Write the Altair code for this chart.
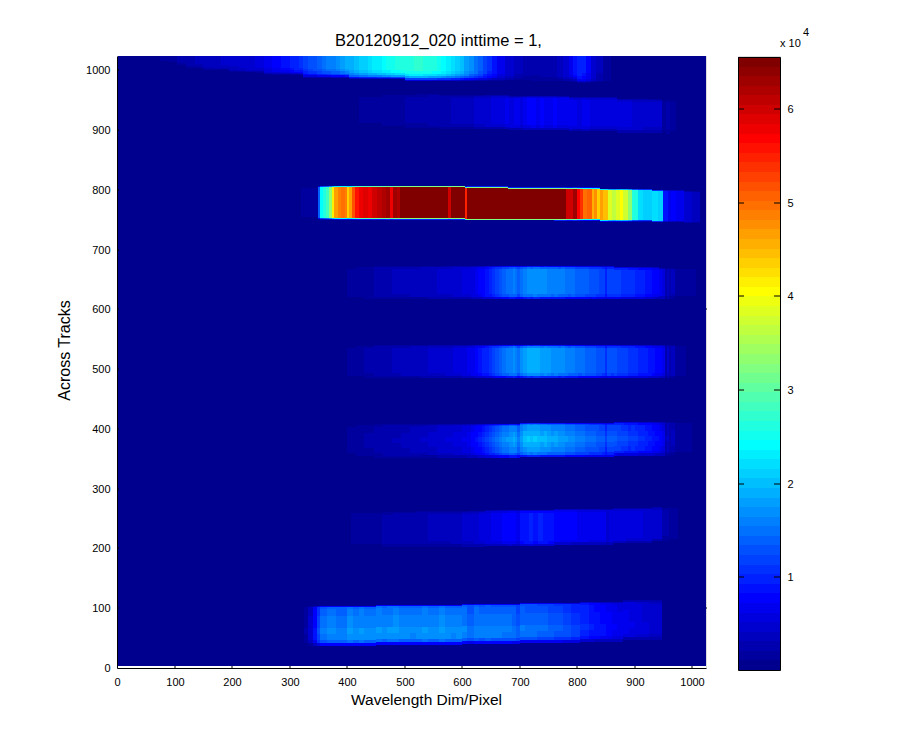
import altair as alt
import pandas as pd

alt.data_transformers.disable_max_rows()

TITLE = "B20120912_020 inttime = 1,"
X_TICKS = [0, 100, 200, 300, 400, 500, 600, 700, 800, 900, 1000]
Y_TICKS = [0, 100, 200, 300, 400, 500, 600, 700, 800, 900, 1000]
CBAR_TICKS = [10000, 20000, 30000, 40000, 50000, 60000]
V_MIN, V_MAX = 90, 65535

# ---- band A (top, y ~ 1000) ----
A_X = [57,75,90,105,120,135,150,165,180,195,210,225,240,255,270,285,300,308,316,324,332,340,348,356,364,372,380,388,396,404,412,420,428,436,444,452,460,468,476,484,492,500,508,516,524,532,540,548,556,564,572,580,588,596,604,612,620,628,636,644,652,660,675,690,705,720,735,750,765,775,785,792,800,808,816,824,832,845,858]
A_V = [700,1300,1800,2300,2900,3300,3700,3900,4200,4400,4700,5000,5600,6400,7400,8400,9300,10100,10800,11600,12400,13100,13900,14700,15500,16200,16900,17700,18500,19300,20000,20800,21500,22200,22900,23500,24100,24700,25200,25700,26100,26400,26600,26800,26700,26500,26200,25700,25100,24300,23400,22300,21000,19600,18200,16800,15300,13700,12100,10500,9000,7200,5000,3600,2800,2500,2600,3000,3800,5000,7000,8800,9800,9500,7500,5000,3200,1800,900]
A_END = 875
A_OX = [57,75,95,120,150,190,250,320,400,500,640,720,800,860]
A_LO = [1018,1012,1007,1003,999,996,992,988,985,983,983,981,978,980]
A_HI = [1024]*14

# ---- band B (y ~ 930) ----
B_X = [420,440,460,480,500,520,540,560,580,600,610,620,630,640,650,660,668,675,682,690,700,706,712,720,728,735,742,750,758,765,775,785,792,800,808,815,822,830,840,850,862,870,880,888,895,905,915,925,935,948,955,962]
B_V = [1200,1300,1500,2000,2300,2500,2900,3100,3200,3700,3300,4500,4300,5000,5400,6000,5700,6500,6200,6300,5500,7000,7300,7400,7100,7500,7200,7200,7400,7000,6900,6800,6300,6200,6600,6500,6100,6000,5800,5500,5800,5400,5300,5500,5000,5100,4800,4700,4500,1800,2500,1500]
B_END = 972
B_OX = [420,560,680,780,870,940]
B_LO = [903,902,900,898,896,894]
B_HI = [960,959,957.5,955,952,950]

# ---- band C (bright, y ~ 780) ----
C_X = [150,175,200,225,280,300,320,340,349,353,358,363,368,373,378,384,390,396,400,404,409,414,420,428,436,444,452,460,468,474,480,486,492,530,560,575,581,605,609,640,680,720,760,781,793,799,805,811,817,825,830,835,840,845,853,860,868,875,880,888,895,905,915,930,940,950,958,964,972,985,1000]
C_V = [900,1100,800,400,900,1100,1300,1600,14000,24000,26000,28000,33000,41000,47000,49000,50000,49000,44000,47000,52000,56000,58000,59000,57500,59500,60500,61500,62500,58000,63000,62000,65535,65535,65535,60000,65535,55000,65535,65535,65535,65535,65535,60000,63000,57000,54000,50000,51000,46000,48000,44000,47000,45000,38000,36000,38000,40000,37000,33000,26000,22000,21000,22000,21000,9000,7000,8000,7000,5000,4000]
C_END = 1013
C_OX = [150,349,600,680,760,840,920,980]
C_LO = [752,750,749,749,748,747,745.5,744]
C_HI = [806,807,806,805,804,802,800.5,798.5]

# ---- bands D, E, F share their column starts ----
MID_X = [383,400,416,430,447,462,478,494,510,526,540,556,570,585,600,608,616,622,628,634,640,646,652,658,664,670,676,682,688,692,696,700,706,712,718,724,730,736,742,748,754,760,766,772,778,784,790,796,802,808,814,820,826,832,838,844,848,852,858,864,870,876,882,888,894,900,906,912,918,924,930,936,942,948,952,956,960,964,970]
D_V = [900,1300,1800,2100,2600,2900,3200,3300,3600,3800,4000,4200,4600,5000,5300,5700,6200,6800,7400,8200,9200,10200,11200,12200,13000,13800,14500,15200,15800,15000,13500,15000,16300,17000,16600,17300,17000,16500,16800,16200,15800,16200,15500,15800,15000,14600,15000,14200,13800,14200,13400,13000,13200,12500,12200,11800,10200,12000,11800,12000,11500,11200,11000,10500,10700,10000,9500,9700,9000,8800,8000,7600,7000,6000,2500,4000,2800,3500,1500]
D_END = 1006
D_OX = [383,860,940]
D_LO = [617,617,618]
D_HI = [672,671,670]

E_V = [900,1300,1900,2200,2700,3000,3400,3600,3800,4000,4300,4500,4900,5400,5800,6300,7000,7700,8400,9300,10300,11300,12300,13300,14200,15000,15700,16300,17000,16200,14500,16500,18000,19000,18500,19200,18800,18000,18300,17500,17000,17400,16700,17000,16200,15700,16000,15200,14700,15000,14200,13800,14000,13300,13000,12500,10800,12800,12500,12700,12200,11800,11500,11000,11200,10500,10000,10200,9500,9200,8500,8000,7400,6400,3000,4500,3000,3800,1500]
E_END = 989
E_OX = [386]
E_LO = [484.5]
E_HI = [540]

F_V = [900,1200,1700,2200,2600,2900,3000,3300,3600,3900,4200,4500,5000,5400,6000,6500,7300,8000,8800,9800,10800,11800,12800,13800,14800,15600,16300,17000,17500,16700,15000,17000,18500,19300,18800,19500,19000,18200,18500,17700,17200,17500,16800,17000,16200,15800,16000,15200,14800,15000,14200,13800,14000,13300,13000,12500,10800,12800,12500,12700,12200,11800,11500,11000,11200,10500,10000,10200,9500,9200,8500,8000,7400,6400,3000,4000,2800,3300,1800]
F_END = 999
F_OX = [383,520,700,860,960]
F_LO = [351,352,353,355,357]
F_HI = [408,409,410.5,411.5,412]

# ---- band G (y ~ 235) ----
G_X = [406,430,460,480,500,520,540,560,580,600,612,620,630,640,650,660,670,680,687,694,700,708,716,724,732,740,750,760,770,780,790,800,810,820,830,840,850,856,863,870,885,900,915,930,948,960]
G_V = [1400,1500,2400,2700,2600,2900,3300,3500,3600,4200,4500,4800,5300,5800,6300,6800,7300,7800,7400,6500,8800,9200,9500,9000,9400,9200,8600,8200,8000,7800,7500,7200,7000,6800,6500,6300,5000,6200,6000,5800,5600,5300,5000,4800,2200,1800]
G_END = 975
G_OX = [406,520,640,760,860,930]
G_LO = [203,203,204,206,209,212]
G_HI = [261,263,265,266,268,269]

# ---- band H (y ~ 70) ----
H_X = [325,332,340,347,353,365,380,400,410,420,430,440,450,460,470,480,490,500,510,520,530,540,550,560,570,580,590,600,608,620,630,640,650,660,670,680,687,694,700,710,720,730,740,750,760,775,790,805,820,830,840,850,860,870,880,890,900,912,925]
H_V = [2000,4200,8000,11500,14500,15500,15000,16500,15800,16300,15800,16000,16400,15800,16200,16500,16000,16000,15600,15800,16300,15700,16000,16500,16000,15600,16000,15300,14000,15200,14800,15000,14700,14800,14500,14500,14200,13000,14300,14000,14000,13600,13400,13000,12500,11800,10800,9800,8800,8300,8000,7500,6800,6500,6300,5800,5500,5000,4500]
H_END = 948
H_OX = [325,450,596,700,800,880,930]
H_LO = [37,38,40,42,44,47,50]
H_HI = [104,105,107,109,111,113,115]

# row splits across a band's height, and how strong each row reads
SOFT_E = [0,.03,.08,.25,.4,.55,.7,.85,.93,1]
SOFT_G = [.5,.85,1,1,1,1,1,.9,.55]
C_E = [0,.02,.05,.95,.98,1]
C_G = [.15,.5,1,.5,.15]
A_E = [0,.12,.3,.5,.62,.72,.82,.9,.96,1]
A_G = [1,1,1,1,.95,.85,.7,.45,.2]
F_G = [.5,.8,.93,1,1.08,1,.93,.8,.5]
H_G = [.5,.9,.95,1,1,1.08,1.05,.9,.5]
B_G = [.45,.8,1,1,1,1,1,.85,.5]

BANDS = [
    (A_X, A_V, A_END, A_OX, A_LO, A_HI, A_E, A_G),
    (B_X, B_V, B_END, B_OX, B_LO, B_HI, SOFT_E, B_G),
    (C_X, C_V, C_END, C_OX, C_LO, C_HI, C_E, C_G),
    (MID_X, D_V, D_END, D_OX, D_LO, D_HI, SOFT_E, SOFT_G),
    ([386] + MID_X[1:], E_V, E_END, E_OX, E_LO, E_HI, SOFT_E, SOFT_G),
    (MID_X, F_V, F_END, F_OX, F_LO, F_HI, SOFT_E, F_G),
    (G_X, G_V, G_END, G_OX, G_LO, G_HI, SOFT_E, SOFT_G),
    (H_X, H_V, H_END, H_OX, H_LO, H_HI, SOFT_E, H_G),
]


def jet(n=64):
    out = []
    for i in range(n):
        f = (i + 1) / n
        r = min(4 * f - 1.5, -4 * f + 4.5)
        g = min(4 * f - 0.5, -4 * f + 3.5)
        b = min(4 * f + 0.5, -4 * f + 2.5)
        out.append("#%02x%02x%02x" % tuple(int(round(255 * max(0, min(1, c)))) for c in (r, g, b)))
    return out


JET = jet()

rows = []
for xs_, vs, end, ox, lo, hi, edges, gains in BANDS:
    assert len(xs_) == len(vs)
    bounds = xs_[1:] + [end]
    for x0, x1, v in zip(xs_, bounds, vs):
        k = max(i for i, o in enumerate(ox) if o <= x0)
        for r, g in enumerate(gains):
            top = hi[k] - edges[r] * (hi[k] - lo[k])
            bot = hi[k] - edges[r + 1] * (hi[k] - lo[k])
            rows.append({"x": x0, "x2": x1, "y": bot, "y2": top, "v": v * g})
cells = pd.DataFrame(rows)

W, H = 589, 612
xs = alt.Scale(domain=[0, 1024], range=[0, W], nice=False, zero=False, round=True)
ys = alt.Scale(domain=[0, 1024], range=[H, 0], nice=False, zero=False, round=True)

axis_common = dict(grid=False, ticks=False, domainColor="black", domainWidth=1, format="d",
                   labelColor="black", labelFont="Liberation Sans", labelFontSize=11,
                   titleFont="Liberation Sans", titleFontWeight="normal",
                   titleColor="black", labelFlush=False, labelOverlap=False)
X_AXIS = alt.Axis(values=X_TICKS, title="Wavelength Dim/Pixel", labelPadding=8, titleFontSize=15.5,
                  titleX=309, titleY=24, **axis_common)
Y_AXIS = alt.Axis(values=Y_TICKS, title="Across Tracks", labelPadding=7, titleFontSize=16,
                  titleX=-45, titleY=294, **axis_common)

bg = alt.Chart(pd.DataFrame({"x": [2.5], "x2": [1024], "y": [3], "y2": [1024]})).mark_rect(color=JET[0]).encode(
    x=alt.X("x:Q", scale=xs, axis=X_AXIS),
    x2="x2:Q",
    y=alt.Y("y:Q", scale=ys, axis=Y_AXIS),
    y2="y2:Q",
)

heat = alt.Chart(cells).mark_rect().encode(
    x=alt.X("x:Q", scale=xs, axis=X_AXIS),
    x2="x2:Q",
    y=alt.Y("y:Q", scale=ys, axis=Y_AXIS),
    y2="y2:Q",
    color=alt.Color("v:Q", legend=None,
                    scale=alt.Scale(type="quantize", domain=[V_MIN, V_MAX], range=JET)),
)

left_ticks = alt.Chart(pd.DataFrame({"t": Y_TICKS[1:]})).mark_rule(color="black", strokeWidth=1).encode(
    x=alt.value(0), x2=alt.value(2), y=alt.Y("t:Q", scale=ys, axis=Y_AXIS))
bottom_ticks = alt.Chart(pd.DataFrame({"t": X_TICKS[1:]})).mark_rule(color="black", strokeWidth=1).encode(
    y=alt.value(H), y2=alt.value(H - 2), x=alt.X("t:Q", scale=xs, axis=X_AXIS))
right_ticks = alt.Chart(pd.DataFrame({"t": [100, 600]})).mark_rule(color="black", strokeWidth=1).encode(
    x=alt.value(W), x2=alt.value(W + 1), y=alt.Y("t:Q", scale=ys, axis=Y_AXIS))

main = alt.layer(bg, heat, left_ticks, bottom_ticks, right_ticks).properties(
    width=W, height=H,
    title=alt.TitleParams(TITLE, font="Liberation Sans", fontSize=16.5, fontWeight="normal",
                          color="black", dx=27, offset=7),
)

# ---- colour bar ----
CB_W, CB_H = 42, 614
cb_y = alt.Scale(domain=[V_MIN, V_MAX], range=[CB_H, 1], nice=False, zero=False, round=True)
CB_AXIS = alt.Axis(orient="right", values=CBAR_TICKS, title=None, grid=False, ticks=False,
                   domain=False, labelExpr="datum.value / 10000", labelPadding=7,
                   labelFont="Liberation Sans", labelFontSize=11, labelColor="black")
step = (V_MAX - V_MIN) / 64
levels = pd.DataFrame({"lo": [V_MIN + i * step for i in range(64)],
                       "hi": [V_MIN + (i + 1) * step for i in range(64)],
                       "c": JET})

cb_rect = alt.Chart(levels).mark_rect().encode(
    x=alt.value(0), x2=alt.value(CB_W),
    y=alt.Y("lo:Q", scale=cb_y, axis=CB_AXIS),
    y2="hi:Q",
    color=alt.Color("c:N", scale=None),
)
cb_frame = alt.Chart(pd.DataFrame({"a": [0]})).mark_rect(fill=None, stroke="black", strokeWidth=1).encode(
    x=alt.value(0.5), x2=alt.value(CB_W + 0.5), y=alt.value(1.5), y2=alt.value(CB_H + 0.5))
tick_df = pd.DataFrame({"t": CBAR_TICKS})
cb_t1 = alt.Chart(tick_df).mark_rule(color="black").encode(
    x=alt.value(0), x2=alt.value(6), y=alt.Y("t:Q", scale=cb_y, axis=CB_AXIS))
cb_t2 = alt.Chart(tick_df).mark_rule(color="black").encode(
    x=alt.value(CB_W - 6), x2=alt.value(CB_W), y=alt.Y("t:Q", scale=cb_y, axis=CB_AXIS))
txt1 = alt.Chart(pd.DataFrame({"t": ["x 10"]})).mark_text(
    align="left", baseline="middle", font="Liberation Sans", fontSize=11, color="black"
).encode(text="t:N", x=alt.value(42), y=alt.value(-12))
txt2 = alt.Chart(pd.DataFrame({"t": ["4"]})).mark_text(
    align="left", baseline="middle", font="Liberation Sans", fontSize=11, color="black"
).encode(text="t:N", x=alt.value(65), y=alt.value(-23))

cbar = alt.layer(cb_rect, cb_frame, cb_t1, cb_t2, txt1, txt2).properties(width=CB_W, height=CB_H)

chart = alt.hconcat(main, cbar, spacing=32, bounds="flush").resolve_scale(
    color="independent", x="independent", y="independent"
).properties(
    padding={"left": 47, "top": 18, "right": 5, "bottom": 5}
).configure_view(stroke=None).configure(background="white")

chart.save("out.html", embed_options={"renderer": "svg", "actions": False})
